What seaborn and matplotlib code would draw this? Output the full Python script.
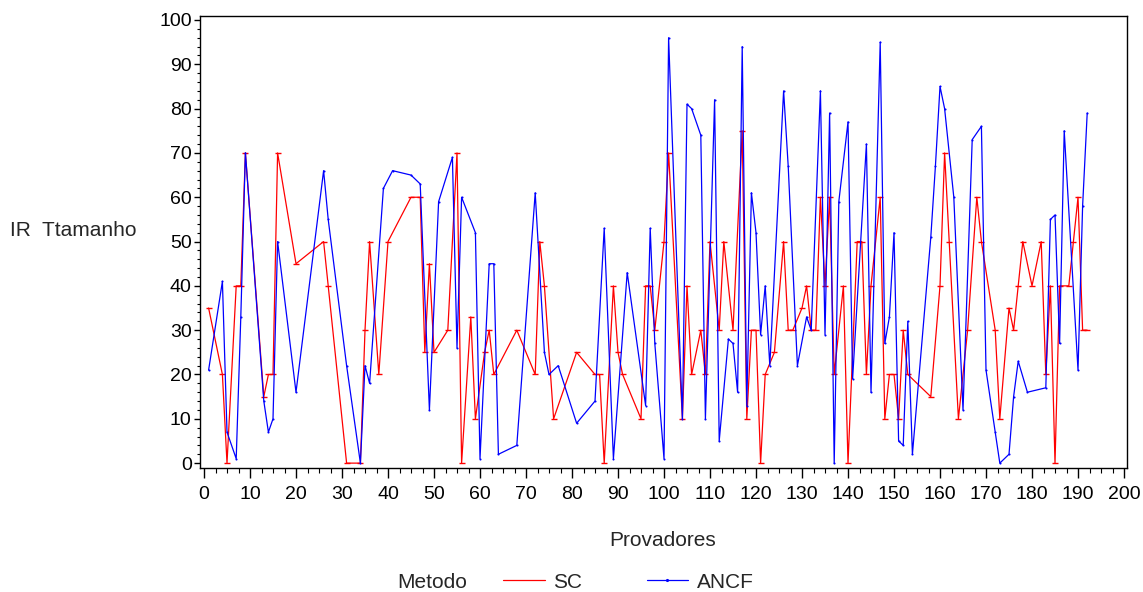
import matplotlib
matplotlib.use("Agg")
import matplotlib.pyplot as plt
import seaborn as sns
import pandas as pd
from matplotlib.ticker import MultipleLocator
from matplotlib.lines import Line2D

# ---- data ----
sc_x = [1, 4, 5, 7, 8, 9, 13, 14, 15, 16, 20, 26, 27, 31, 34, 35, 36, 38, 40, 45,
        47, 48, 49, 50, 53, 55, 56, 58, 59, 61, 62, 63, 68, 72, 73, 74, 76, 81, 85, 86,
        87, 89, 90, 91, 95, 96, 97, 98, 100, 101, 104, 105, 106, 108, 109, 110, 112, 113, 115, 117,
        118, 119, 120, 121, 122, 124, 126, 127, 128, 130, 131, 132, 133, 134, 135, 136, 137, 139, 140, 142,
        143, 144, 145, 147, 148, 149, 150, 151, 152, 153, 158, 160, 161, 162, 164, 166, 168, 169, 172, 173,
        175, 176, 177, 178, 180, 182, 183, 184, 185, 186, 188, 189, 190, 191, 192]
sc_y = [35, 20, 0, 40, 40, 70, 15, 20, 20, 70, 45, 50, 40, 0, 0, 30, 50, 20, 50, 60,
        60, 25, 45, 25, 30, 70, 0, 33, 10, 25, 30, 20, 30, 20, 50, 40, 10, 25, 20, 20,
        0, 40, 25, 20, 10, 40, 40, 30, 50, 70, 10, 40, 20, 30, 20, 50, 30, 50, 30, 75,
        10, 30, 30, 0, 20, 25, 50, 30, 30, 35, 40, 30, 30, 60, 40, 60, 20, 40, 0, 50,
        50, 20, 40, 60, 10, 20, 20, 10, 30, 20, 15, 40, 70, 50, 10, 30, 60, 50, 30, 10,
        35, 30, 40, 50, 40, 50, 20, 40, 0, 40, 40, 50, 60, 30, 30]

ancf_x = [1, 4, 5, 7, 8, 9, 13, 14, 15, 16, 20, 26, 27, 31, 34, 35, 36, 39, 41, 45,
          47, 49, 51, 54, 55, 56, 59, 60, 62, 63, 64, 68, 72, 74, 75, 77, 81, 85, 87, 89,
          92, 96, 97, 98, 100, 101, 104, 105, 106, 108, 109, 111, 112, 114, 115, 116, 117, 118, 119, 120,
          121, 122, 123, 126, 127, 129, 131, 132, 134, 135, 136, 137, 138, 140, 141, 144, 145, 147, 148, 149,
          150, 151, 152, 153, 154, 158, 159, 160, 161, 163, 165, 167, 169, 170, 172, 173, 175, 176, 177, 179,
          183, 184, 185, 186, 187, 190, 191, 192]
ancf_y = [21, 41, 7, 1, 33, 70, 14, 7, 10, 50, 16, 66, 55, 22, 0, 22, 18, 62, 66, 65,
          63, 12, 59, 69, 26, 60, 52, 1, 45, 45, 2, 4, 61, 25, 20, 22, 9, 14, 53, 1,
          43, 13, 53, 27, 1, 96, 10, 81, 80, 74, 10, 82, 5, 28, 27, 16, 94, 13, 61, 52,
          29, 40, 22, 84, 67, 22, 33, 30, 84, 29, 79, 0, 59, 77, 19, 72, 16, 95, 27, 33,
          52, 5, 4, 32, 2, 51, 67, 85, 80, 60, 12, 73, 76, 21, 7, 0, 2, 15, 23, 16,
          17, 55, 56, 27, 75, 21, 58, 79]

methods = ["SC", "ANCF"]
colors = {"SC": "#ff0000", "ANCF": "#0000ff"}

df_sc = pd.DataFrame({"Provadores": sc_x, "IR Ttamanho": sc_y, "Metodo": "SC"})
df_ancf = pd.DataFrame({"Provadores": ancf_x, "IR Ttamanho": ancf_y, "Metodo": "ANCF"})

sns.set_theme(style="white")
plt.rcParams["font.family"] = ["Liberation Sans", "DejaVu Sans"]

fig = plt.figure(figsize=(11.43, 5.92), dpi=100)
ax = fig.add_axes([200 / 1143, 1 - 468 / 592, (1127 - 200) / 1143, (468 - 16) / 592])

sns.lineplot(data=df_sc, x="Provadores", y="IR Ttamanho", color=colors["SC"],
             marker="_", markersize=4.5, markeredgewidth=1.0,
             markeredgecolor=colors["SC"], estimator=None,
             linewidth=0.9, ax=ax, legend=False)
sns.lineplot(data=df_ancf, x="Provadores", y="IR Ttamanho", color=colors["ANCF"],
             marker=".", markersize=3, markeredgewidth=0,
             markerfacecolor=colors["ANCF"], estimator=None,
             linewidth=0.9, ax=ax, legend=False)

ax.set_xlim(-0.87, 200.65)
ax.set_ylim(-1.1, 100.9)
ax.xaxis.set_major_locator(MultipleLocator(10))
ax.xaxis.set_minor_locator(MultipleLocator(2.5))
ax.yaxis.set_major_locator(MultipleLocator(10))
ax.yaxis.set_minor_locator(MultipleLocator(2))
ax.tick_params(axis="x", which="major", direction="out", length=7, width=1, color="black",
               labelsize=14, labelcolor="black", bottom=True, pad=6)
ax.tick_params(axis="x", which="minor", direction="out", length=3.5, width=0.8,
               color="black", bottom=True)
ax.tick_params(axis="y", which="major", direction="out", length=4, width=1, color="black",
               labelsize=14, labelcolor="black", left=True, pad=2)
ax.tick_params(axis="y", which="minor", direction="out", length=2.5, width=0.8,
               color="black", left=True)
for s in ax.spines.values():
    s.set_visible(True)
    s.set_color("black")
    s.set_linewidth(1.0)
ax.grid(False)

ax.set_xlabel("")
ax.set_ylabel("")
fig.text(663 / 1143, 1 - 541 / 592, "Provadores", fontsize=15, ha="center", va="center")
fig.text(10 / 1143, 1 - 231 / 592, "IR  Ttamanho", fontsize=15, ha="left", va="center")

# legend at bottom
fig.text(397 / 1143, 1 - 582 / 592, "Metodo", fontsize=15, ha="left", va="center")
handles = [Line2D([], [], color=colors["SC"], lw=0.9),
           Line2D([], [], color=colors["ANCF"], lw=0.9, marker=".", markersize=2.5)]
fig.legend(handles, methods, loc="center left", bbox_to_anchor=(503 / 1143, 1 - 582 / 592),
           ncol=2, frameon=False, fontsize=15, handlelength=2.0, columnspacing=3.1,
           handletextpad=0.4, borderaxespad=0, borderpad=0)

fig.savefig("out.png", dpi=100)
